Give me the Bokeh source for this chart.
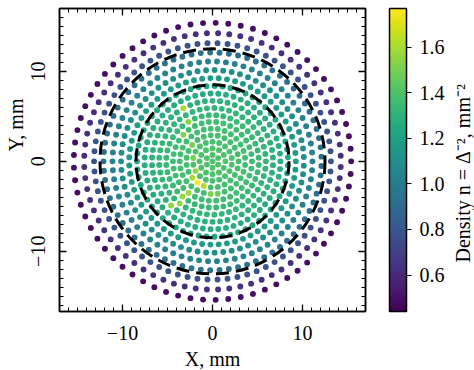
import numpy as np
from bokeh.plotting import figure
from bokeh.layouts import row
from bokeh.models import (LinearColorMapper, ColorBar, LinearAxis, SingleIntervalTicker,
                          FixedTicker, PrintfTickFormatter, ColumnDataSource, Range1d,
                          CustomJSTickFormatter, Title)
from bokeh.palettes import Viridis256
from bokeh.embed import file_html
from bokeh.resources import INLINE

# ---- data ----
# concentric rows of sensors: radius (mm), number of points, density (mm^-2)
ring_radius = [0.0, 0.72, 1.44, 2.17, 2.90, 3.64, 4.39, 5.15, 5.93, 6.73, 7.55,
               8.39, 9.26, 10.16, 11.11, 12.11, 13.16, 14.26, 15.41]
ring_count = [1, 6, 12, 18, 23, 29, 34, 40, 45, 50, 55, 59, 63, 67, 70, 73, 74, 72, 69]
ring_density = [1.40, 1.40, 1.40, 1.39, 1.38, 1.37, 1.36, 1.34, 1.32, 1.30, 1.27,
                1.23, 1.17, 1.10, 1.03, 0.93, 0.78, 0.63, 0.49]
# brighter (denser) points
hot_x = [-1.6, -1.0, -2.2, -2.0, -2.3, -2.6, -2.9, -3.1, -3.3, -2.7, -3.4, -4.0, -4.6, -0.3, 0.7]
hot_y = [-2.7, -3.1, -2.0, -1.0, 0.2, 1.6, 3.0, 4.3, 5.5, -3.6, -4.3, -4.8, -5.3, -3.3, -3.7]
hot_n = [1.76, 1.62, 1.60, 1.55, 1.50, 1.50, 1.52, 1.55, 1.60, 1.57, 1.56, 1.55, 1.54, 1.50, 1.47]
# dashed reference circles
circle_cx = [0.0, 0.0]
circle_cy = [0.0, 0.0]
circle_r = [8.5, 12.5]
x_ticks_major = 10
cbar_ticks = [0.6, 0.8, 1.0, 1.2, 1.4, 1.6]
cbar_low, cbar_high = 0.44, 1.77
x_label = "X, mm"
y_label = "Y, mm"
cbar_label = "Density n = \u0394\u207b\u00b2, mm\u207b\u00b2"

# ---- build point table ----
xs, ys, ns = [], [], []
for k, (R, c, n) in enumerate(zip(ring_radius, ring_count, ring_density)):
    phase = 0.5 * (k % 2)
    ang = 2 * np.pi * (np.arange(c) + phase) / c
    xs.extend(R * np.cos(ang))
    ys.extend(R * np.sin(ang))
    ns.extend([n] * c)
xs = np.array(xs); ys = np.array(ys); ns = np.array(ns)
for hx, hy, hn in zip(hot_x, hot_y, hot_n):
    i = int(np.argmin((xs - hx) ** 2 + (ys - hy) ** 2))
    ns[i] = hn
src = ColumnDataSource(dict(x=xs, y=ys, n=ns))

FONT = "Liberation Serif"
FS = "20px"

mapper = LinearColorMapper(palette=Viridis256, low=cbar_low, high=cbar_high)

p = figure(frame_width=306, frame_height=303,
           x_range=Range1d(-17, 17), y_range=Range1d(-16.7, 17.0),
           output_backend="svg", toolbar_location=None,
           min_border_left=58, min_border_right=0, min_border_top=8, min_border_bottom=59)
p.grid.visible = False
p.outline_line_color = "black"
p.outline_line_width = 1.5
p.background_fill_color = "white"
p.border_fill_color = "white"

p.scatter("x", "y", source=src, size=5.9, line_color=None,
          fill_color={"field": "n", "transform": mapper})
p.circle(x=circle_cx, y=circle_cy, radius=circle_r, fill_color=None,
         line_color="black", line_width=3, line_dash="13 7")

blank = CustomJSTickFormatter(code="return ''")


def style_axis(ax, labels=True, standoff=12):
    ax.ticker = SingleIntervalTicker(interval=x_ticks_major, num_minor_ticks=10)
    ax.major_tick_in = 7
    ax.major_tick_out = 0
    ax.minor_tick_in = 4
    ax.minor_tick_out = 0
    ax.major_tick_line_width = 1.3
    ax.minor_tick_line_width = 1
    ax.major_tick_line_color = "black"
    ax.minor_tick_line_color = "black"
    ax.axis_line_width = 1.5
    ax.axis_line_color = "black"
    ax.major_label_standoff = standoff
    if labels:
        ax.major_label_text_font = FONT
        ax.major_label_text_font_size = FS
        ax.major_label_text_color = "black"
        ax.major_label_overrides = {-10: "\u221210"}
    else:
        ax.formatter = blank


style_axis(p.xaxis[0], standoff=14)
style_axis(p.yaxis[0], standoff=14)
p.yaxis[0].major_label_orientation = "vertical"
p.xaxis[0].axis_label = x_label
p.xaxis[0].axis_label_text_font = FONT
p.xaxis[0].axis_label_text_font_size = FS
p.xaxis[0].axis_label_text_font_style = "normal"
p.xaxis[0].axis_label_text_color = "black"
p.xaxis[0].axis_label_standoff = 5

top_ax = LinearAxis()
style_axis(top_ax, labels=False, standoff=0)
p.add_layout(top_ax, "above")
right_ax = LinearAxis()
style_axis(right_ax, labels=False, standoff=0)
p.add_layout(right_ax, "right")

# invisible spacer between the frame and the colour bar
spacer = LinearAxis(ticker=FixedTicker(ticks=[0]), axis_line_color=None,
                    major_tick_line_color="white", major_tick_line_width=0.01,
                    minor_tick_line_color=None, major_tick_out=24, major_tick_in=0,
                    major_label_standoff=0, formatter=blank)
p.add_layout(spacer, "right")

# Y label: a side title, placed a little above the middle as in the reference
p.add_layout(Title(text=y_label, align="left", offset=160, standoff=4,
                   text_font=FONT, text_font_size=FS, text_font_style="normal",
                   text_color="black"), "left")

cb = ColorBar(color_mapper=mapper, width=17, height=303, padding=0, margin=0,
              ticker=FixedTicker(ticks=cbar_ticks),
              formatter=PrintfTickFormatter(format="%.1f"),
              major_label_text_font=FONT, major_label_text_font_size=FS,
              major_label_text_color="black", label_standoff=8,
              major_tick_in=0, major_tick_out=5, major_tick_line_color="black",
              major_tick_line_width=1.2, minor_tick_line_color=None,
              bar_line_color="black", bar_line_width=1.5,
              background_fill_alpha=0, border_line_color=None)
p.add_layout(cb, "right")

# colour-bar label in a narrow companion figure (left title reads bottom-to-top)
q = figure(frame_width=1, frame_height=303, x_range=Range1d(0, 1), y_range=Range1d(0, 1),
           output_backend="svg", toolbar_location=None,
           x_axis_location=None, y_axis_location=None,
           min_border_left=28, min_border_right=0, min_border_top=8, min_border_bottom=59)
q.grid.visible = False
q.outline_line_color = None
q.background_fill_color = "white"
q.border_fill_color = "white"
q.add_layout(Title(text=cbar_label, align="left", offset=49, standoff=4,
                   text_font=FONT, text_font_size=FS, text_font_style="normal",
                   text_color="black"), "left")

layout = row(p, q, spacing=0)
open("out.html", "w").write(file_html(layout, INLINE))
